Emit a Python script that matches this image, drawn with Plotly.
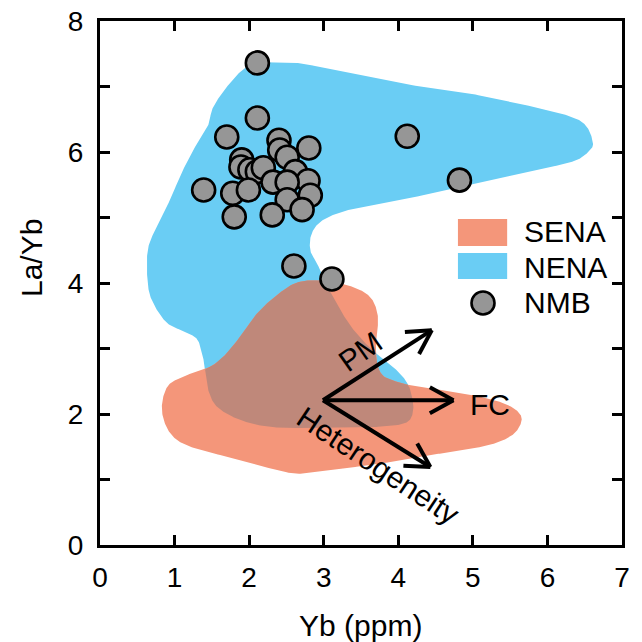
import numpy as np
import plotly.graph_objects as go

# ---- NMB basalt samples: Yb (ppm) vs La/Yb ----
nmb_yb = [2.11, 2.11, 1.70, 2.40, 2.80, 2.41, 2.51, 1.90, 1.89, 2.01, 2.11, 2.19, 2.62,
          2.79, 2.32, 2.51, 2.82, 1.39, 1.78, 1.99, 2.51, 2.71, 2.31, 1.80, 2.60, 3.11,
          4.12, 4.82]
nmb_layb = [7.36, 6.52, 6.23, 6.18, 6.06, 6.03, 5.92, 5.88, 5.77, 5.73, 5.70, 5.76, 5.70,
            5.56, 5.54, 5.54, 5.34, 5.42, 5.37, 5.42, 5.27, 5.12, 5.04, 5.01, 4.26, 4.06,
            6.24, 5.57]

# ---- NENA field outline (control points) ----
nena_yb = [2.11, 2.32, 2.64, 2.95, 3.35, 4.02, 4.92, 5.81, 6.34, 6.53, 6.61, 6.57, 6.40,
           6.04, 5.36, 4.69, 4.02, 3.35, 2.99, 2.84, 2.82, 2.92, 3.02, 3.15, 3.35, 3.62,
           3.86, 4.06, 4.16, 4.20, 4.09, 3.66, 2.99, 2.32, 1.88, 1.57, 1.45, 1.41, 1.38,
           1.31, 1.17, 0.90, 0.71, 0.64, 0.64, 0.76, 0.94, 1.07, 1.25, 1.44, 1.52, 1.74,
           1.94]
nena_layb = [7.36, 7.37, 7.36, 7.30, 7.21, 7.05, 6.90, 6.69, 6.53, 6.38, 6.14, 6.03, 5.88,
             5.77, 5.60, 5.42, 5.27, 5.12, 4.96, 4.76, 4.50, 4.28, 4.00, 3.74, 3.36, 3.01,
             2.79, 2.57, 2.37, 2.06, 1.86, 1.80, 1.79, 1.80, 1.91, 2.11, 2.37, 2.67, 2.87,
             3.13, 3.24, 3.39, 3.70, 4.00, 4.50, 4.86, 5.27, 5.62, 6.03, 6.38, 6.69, 7.05,
             7.28]

# ---- SENA field outline (control points) ----
sena_yb = [2.68, 3.04, 3.39, 3.62, 3.72, 3.72, 3.70, 3.72, 3.80, 3.96, 4.16, 4.56, 5.00,
           5.40, 5.61, 5.65, 5.53, 5.23, 4.69, 4.25, 3.80, 3.35, 2.95, 2.55, 1.88, 1.21,
           0.94, 0.83, 0.90, 1.11, 1.44, 1.65, 1.88, 2.11, 2.41]
sena_layb = [4.02, 4.03, 3.94, 3.79, 3.54, 3.24, 3.05, 2.75, 2.58, 2.50, 2.44, 2.37, 2.29,
             2.17, 2.03, 1.88, 1.68, 1.53, 1.42, 1.34, 1.25, 1.18, 1.12, 1.10, 1.30, 1.50,
             1.71, 2.06, 2.41, 2.57, 2.70, 2.87, 3.18, 3.54, 3.85]

# ---- process vectors: common origin and end points ----
vec_origin = (2.99, 2.21)
vec_names = ["PM", "FC", "Heterogeneity"]
vec_end_yb = [4.45, 4.74, 4.43]
vec_end_layb = [3.28, 2.21, 1.19]

X_RANGE = (0, 7)
Y_RANGE = (0, 8)
W, H = 642, 642
M = dict(l=100, r=20, t=21, b=97)
PX_X = (W - M["l"] - M["r"]) / (X_RANGE[1] - X_RANGE[0])
PX_Y = (H - M["t"] - M["b"]) / (Y_RANGE[1] - Y_RANGE[0])

BLUE = "rgb(106,205,244)"
SALMON = "rgb(244,150,122)"
BROWN = "rgb(191,136,122)"
GRAY = "rgb(150,150,150)"
FONT = "Liberation Sans, Arial, sans-serif"


def smooth_closed(xs, ys, n=24):
    """Closed Catmull-Rom curve through the outline control points."""
    P = np.column_stack([xs, ys]).astype(float)
    N = len(P)
    t = np.linspace(0, 1, n, endpoint=False)[:, None]
    out = []
    for i in range(N):
        p0, p1, p2, p3 = P[i - 1], P[i], P[(i + 1) % N], P[(i + 2) % N]
        out.append(0.5 * (2 * p1 + (-p0 + p2) * t + (2 * p0 - 5 * p1 + 4 * p2 - p3) * t ** 2
                          + (-p0 + 3 * p1 - 3 * p2 + p3) * t ** 3))
    return np.vstack(out)


def signed_area(p):
    x, y = p[:, 0], p[:, 1]
    return 0.5 * np.sum(x * np.roll(y, -1) - np.roll(x, -1) * y)


def inside(pts, poly):
    x = pts[:, 0][:, None]
    y = pts[:, 1][:, None]
    x0 = poly[:, 0][None, :]
    y0 = poly[:, 1][None, :]
    x1 = np.roll(poly[:, 0], -1)[None, :]
    y1 = np.roll(poly[:, 1], -1)[None, :]
    cond = (y0 > y) != (y1 > y)
    with np.errstate(divide="ignore", invalid="ignore"):
        xc = x0 + (y - y0) * (x1 - x0) / (y1 - y0)
    return ((cond & (x < xc)).sum(axis=1) % 2) == 1


def runs(poly, mask):
    """Contiguous (cyclic) stretches of the outline where mask is True."""
    start = int(np.argmin(mask))  # an index outside
    idx = np.roll(np.arange(len(poly)), -start)
    m = mask[idx]
    arcs, cur = [], []
    for k, flag in zip(idx, m):
        if flag:
            cur.append(k)
        elif cur:
            arcs.append(poly[cur])
            cur = []
    if cur:
        arcs.append(poly[cur])
    return arcs


def intersection(A, B):
    if signed_area(A) < 0:
        A = A[::-1]
    if signed_area(B) < 0:
        B = B[::-1]
    arcs_a = runs(A, inside(A, B))
    arcs_b = runs(B, inside(B, A))
    out = [arcs_a.pop(0)]
    from_a = True
    while True:
        pool = arcs_b if from_a else arcs_a
        if not pool:
            break
        end = out[-1][-1]
        d = [np.hypot((a[0][0] - end[0]) * PX_X, (a[0][1] - end[1]) * PX_Y) for a in pool]
        out.append(pool.pop(int(np.argmin(d))))
        from_a = not from_a
    return np.vstack(out)


nena = smooth_closed(nena_yb, nena_layb)
sena = smooth_closed(sena_yb, sena_layb)
overlap = intersection(sena, nena)

fig = go.Figure()


def add_field(poly, color, name):
    xs = np.append(poly[:, 0], poly[0, 0])
    ys = np.append(poly[:, 1], poly[0, 1])
    fig.add_trace(go.Scatter(x=xs, y=ys, mode="lines", fill="toself", fillcolor=color,
                             line=dict(width=0, color=color), hoverinfo="skip",
                             name=name, showlegend=False))


add_field(nena, BLUE, "NENA")
add_field(sena, SALMON, "SENA")
add_field(overlap, BROWN, "SENA ∩ NENA")

fig.add_trace(go.Scatter(x=nmb_yb, y=nmb_layb, mode="markers", name="NMB", showlegend=False,
                         marker=dict(size=23, color=GRAY, line=dict(color="black", width=2.6))))

# process vectors with open arrowheads
ox, oy = vec_origin
barb_len, barb_ang = 27.0, np.radians(29)
ax_x, ax_y = [], []
for ex, ey in zip(vec_end_yb, vec_end_layb):
    dx, dy = (ox - ex) * PX_X, (oy - ey) * PX_Y
    L = np.hypot(dx, dy)
    ux, uy = dx / L, dy / L
    ax_x += [ox, ex, None]
    ax_y += [oy, ey, None]
    for s in (1, -1):
        c, sn = np.cos(s * barb_ang), np.sin(s * barb_ang)
        bx = (ux * c - uy * sn) * barb_len / PX_X
        by = (ux * sn + uy * c) * barb_len / PX_Y
        ax_x += [ex + bx, ex, None]
        ax_y += [ey + by, ey, None]
fig.add_trace(go.Scatter(x=ax_x, y=ax_y, mode="lines", hoverinfo="skip", showlegend=False,
                         line=dict(color="black", width=4)))

txt = dict(family=FONT, size=30, color="black")
fig.add_annotation(x=3.49, y=2.95, text="PM", textangle=-35, showarrow=False, font=txt)
fig.add_annotation(x=5.23, y=2.15, text="FC", showarrow=False, font=txt)
fig.add_annotation(x=3.73, y=1.22, text="Heterogeneity", textangle=33.5, showarrow=False, font=txt)

# legend
fig.add_shape(type="rect", xref="x", yref="y", x0=4.80, x1=5.46, y0=4.565, y1=4.977,
              fillcolor=SALMON, line=dict(width=0))
fig.add_shape(type="rect", xref="x", yref="y", x0=4.80, x1=5.46, y0=4.061, y1=4.458,
              fillcolor=BLUE, line=dict(width=0))
fig.add_shape(type="circle", xref="x", yref="y", xsizemode="pixel", ysizemode="pixel",
              xanchor=5.136, yanchor=3.695, x0=-11.5, x1=11.5, y0=-11.5, y1=11.5,
              fillcolor=GRAY, line=dict(color="black", width=2.6))
for label, ly in zip(["SENA", "NENA", "NMB"], [4.78, 4.244, 3.695]):
    fig.add_annotation(x=5.66, y=ly, text=label, showarrow=False, xanchor="left",
                       yanchor="middle", font=txt)

# axis titles
fig.add_annotation(xref="paper", yref="paper", x=(360 - M["l"]) / (W - M["l"] - M["r"]),
                   y=-(625 - (H - M["b"])) / (H - M["t"] - M["b"]), text="Yb (ppm)",
                   showarrow=False, xanchor="center", yanchor="middle", font=txt)
fig.add_annotation(xref="paper", yref="paper", x=-(M["l"] - 31) / (W - M["l"] - M["r"]),
                   y=(H - M["b"] - 258) / (H - M["t"] - M["b"]), text="La/Yb",
                   textangle=-90, showarrow=False, xanchor="center", yanchor="middle",
                   font=txt)

axis_common = dict(showline=True, linecolor="black", linewidth=3, mirror="ticks",
                   ticks="inside", ticklen=10, tickwidth=2.5, tickcolor="black",
                   showgrid=False, zeroline=False, automargin=False,
                   tickfont=dict(family=FONT, size=28, color="black"))
fig.update_xaxes(range=list(X_RANGE), dtick=1, ticklabelstandoff=5, **axis_common)
fig.update_yaxes(range=list(Y_RANGE), dtick=2, ticklabelstandoff=8, **axis_common,
                 minor=dict(dtick=1, ticks="inside", ticklen=10, tickwidth=2.5,
                            tickcolor="black"))
fig.update_layout(width=W, height=H, margin=M, plot_bgcolor="white", paper_bgcolor="white",
                  showlegend=False)

fig.write_html("out.html")
